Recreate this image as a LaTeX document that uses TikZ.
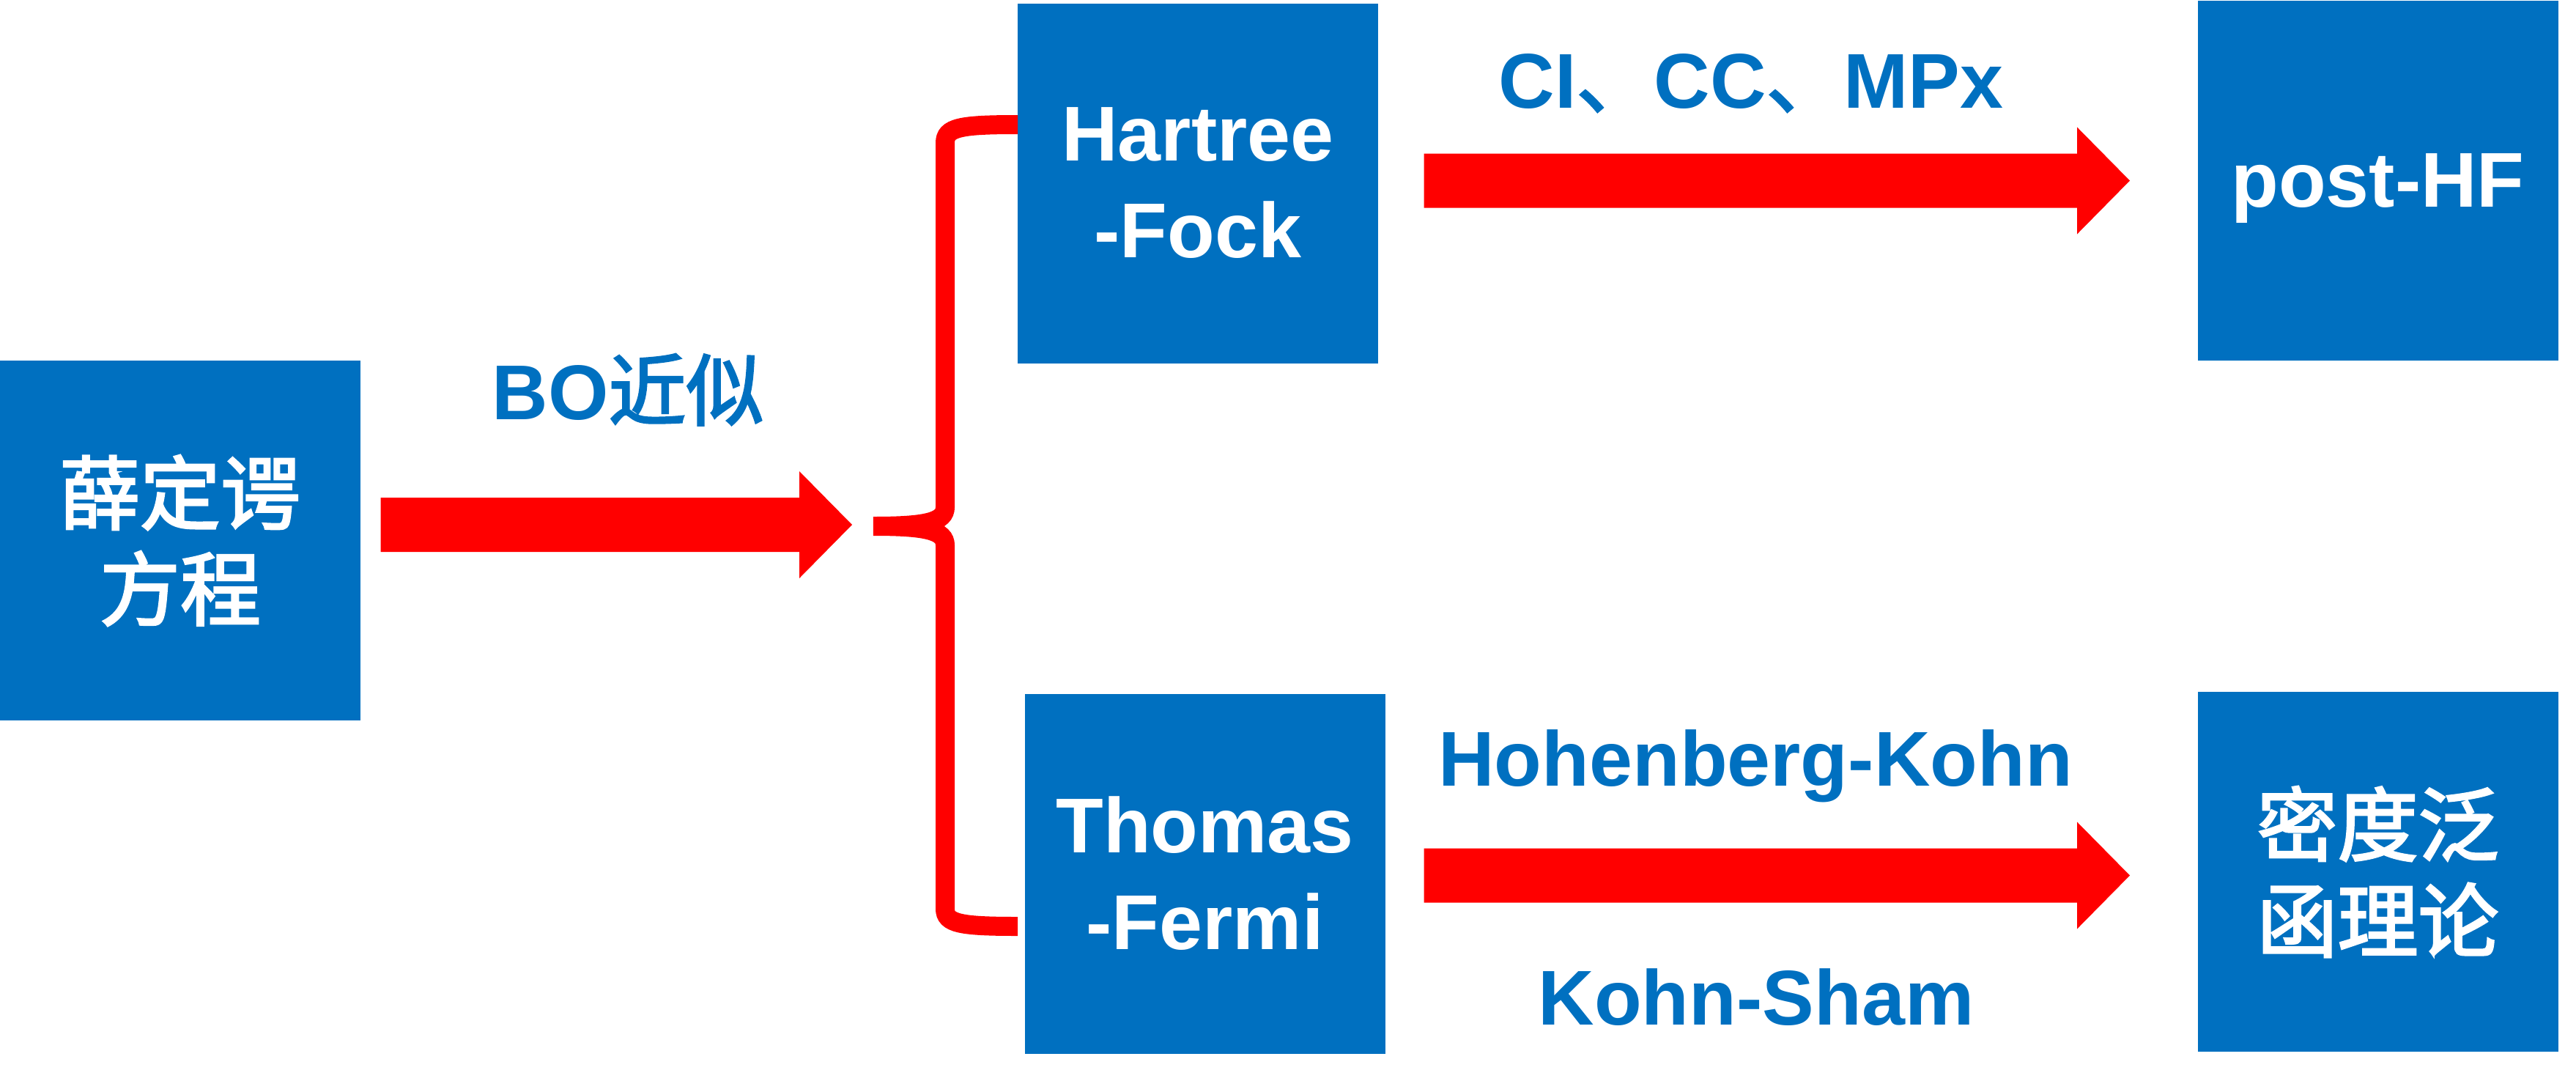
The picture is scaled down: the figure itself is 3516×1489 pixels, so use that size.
\documentclass[tikz,border=0pt]{standalone}
\usepackage{fontspec}
\setmainfont{Liberation Sans}
\newfontfamily\cjk{Noto Sans CJK SC}[UprightFeatures={FakeBold=2.5}]
\usetikzlibrary{calc}
\definecolor{boxblue}{HTML}{0070C0}
\definecolor{arrred}{HTML}{FF0000}
\newcommand\zhx[1]{{\cjk\mdseries #1}}
\newcommand\blockarrow[2]{%
  \fill[arrred] ($(#1)+(0,-37)$) -- ($(#2)+(-72,-37)$) -- ($(#2)+(-72,-73)$) -- (#2)
    -- ($(#2)+(-72,73)$) -- ($(#2)+(-72,37)$) -- ($(#1)+(0,37)$) -- cycle;}
\tikzset{
  box/.style={fill=boxblue, minimum width=246pt, minimum height=245.5pt, inner sep=0pt,
    text=white, align=center, font=\bfseries\fontsize{53}{66}\selectfont},
  zhbox/.style={box, font=\cjk\mdseries\fontsize{55}{65.5}\selectfont},
  lbl/.style={text=boxblue, anchor=base, inner sep=0pt, font=\bfseries\fontsize{53}{66}\selectfont},
  bracestyle/.style={arrred, line width=13pt, line join=miter}
}
\begin{document}
\begin{tikzpicture}[x=0.5pt,y=-0.5pt]
\useasboundingbox (0,0) rectangle (3516,1489);
% boxes
\node[zhbox] (sch) at (246,737.5) {薛定谔\\方程};
\node[box] (hf) at (1635,250) {Hartree\\-Fock};
\node[box] (tf) at (1644.5,1192) {Thomas\\-Fermi};
\node[box, text depth=0pt] (phf) at (3245.5,246) {post-HF};
\node[zhbox] (dft) at (3245.5,1189.5) {密度泛\\函理论};
% labels
\node[lbl] (bo) at (857,572) {BO\zhx{近似}};
\node[lbl] (ci) at (2390,147) {CI\zhx{、}CC\zhx{、}MPx};
\node[lbl] (hk) at (2396,1072) {Hohenberg-Kohn};
\node[lbl] (ks) at (2397,1398.5) {Kohn-Sham};
% arrows
\coordinate (a1s) at (519.5,716);
\coordinate (a1e) at (1163,716);
\coordinate (a2s) at (1943.5,246.5);
\coordinate (a2e) at (2907,246.5);
\coordinate (a3s) at (1943.5,1194.5);
\coordinate (a3e) at (2907,1194.5);
\blockarrow{a1s}{a1e}
\blockarrow{a2s}{a2e}
\blockarrow{a3s}{a3e}
% brace
\coordinate (bt) at (1389,170);
\coordinate (bm) at (1192,718);
\coordinate (bb) at (1389,1264);
\draw[bracestyle] (bt) .. controls (1310,170) and (1290,174) .. (1290,195)
  -- (1290,692) .. controls (1290,712) and (1265,718) .. (bm)
  .. controls (1265,718) and (1290,724) .. (1290,744)
  -- (1290,1240) .. controls (1290,1260) and (1310,1264) .. (bb);
\end{tikzpicture}
\end{document}
